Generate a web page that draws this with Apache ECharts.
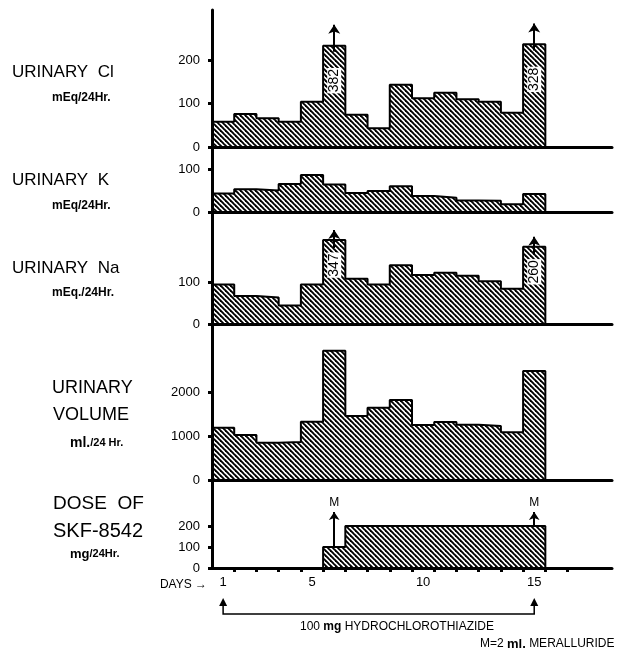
<!DOCTYPE html>
<html>
<head>
<meta charset="utf-8">
<script src="https://cdn.jsdelivr.net/npm/echarts@6/dist/echarts.min.js"></script>
<style>
  html, body { margin: 0; background: #fff; }
  #chart { width: 641px; height: 650px; }
</style>
</head>
<body>
<div id="chart"></div>
<script>
const days = [1, 2, 3, 4, 5, 6, 7, 8, 9, 10, 11, 12, 13, 14, 15];
const clValues = [58, 76, 66, 58, 104, 382, 74, 43, 143, 112, 125, 110, 104, 79, 328];
const kValues = [43, 53, 50, 65, 86, 64, 44, 49, 60, 37, 33, 27, 26, 18, 42];
const naValues = [94, 67, 63, 44, 94, 347, 108, 94, 140, 117, 122, 115, 102, 84, 260];
const volumeValues = [1189, 1023, 848, 864, 1325, 2939, 1455, 1643, 1818, 1250, 1318, 1257, 1227, 1084, 2477];
const doseValues = [0, 0, 0, 0, 0, 100, 200, 200, 200, 200, 200, 200, 200, 200, 200];
// off-scale days and the height the bar is broken at
const clCut = [{ day: 6, at: 233 }, { day: 15, at: 236 }];
const naCut = [{ day: 6, at: 200 }, { day: 15, at: 184 }];
const merallurideDays = [6, 15];
const dayTicks = [1, 2, 3, 4, 5, 6, 7, 8, 9, 10, 11, 12, 13, 14, 15, 16];
const dayLabels = [1, 5, 10, 15];

const font = '"Liberation Sans", Arial, sans-serif';
const chart = echarts.init(document.getElementById('chart'));

function hatch() {
  const s = 5;
  const c = document.createElement('canvas');
  c.width = s; c.height = s;
  const g = c.getContext('2d');
  g.strokeStyle = '#000';
  g.lineWidth = 1.9;
  for (let k = -1; k <= 1; k++) {
    g.beginPath();
    g.moveTo(k * s - 1, -1);
    g.lineTo(k * s + s + 1, s + 1);
    g.stroke();
  }
  return c;
}
const pattern = { image: hatch(), repeat: 'repeat' };

// day d covers [d-1, d] on the x scale
function stepData(values, cuts) {
  const pts = values.map((v, i) => {
    const c = (cuts || []).find(c => c.day === days[i]);
    return [days[i] - 1, c ? c.at : v];
  });
  pts.push([days[days.length - 1], 0]);
  return pts;
}

const panels = [
  { values: clValues, cuts: clCut, top: 10, height: 137, max: 315, ticks: [0, 100, 200], arrow: [14, 48], drop: 35 },
  { values: kValues, top: 147, height: 65, max: 151, ticks: [0, 100] },
  { values: naValues, cuts: naCut, top: 212, height: 112, max: 267, ticks: [0, 100], arrow: [19, 24], drop: 25 },
  { values: volumeValues, top: 324, height: 156, max: 3545, ticks: [0, 1000, 2000] },
  { values: doseValues, top: 480, height: 88, max: 419, ticks: [0, 100, 200] }
];
const last = panels.length - 1;

chart.setOption({
  animation: false,
  backgroundColor: '#fff',
  grid: panels.map(p => ({ left: 212, right: 29, top: p.top, height: p.height })),
  xAxis: panels.map((p, i) => ({
    type: 'value', gridIndex: i, min: 0, max: 18,
    splitLine: { show: false },
    axisLine: { lineStyle: { color: '#000', width: 3 } },
    axisTick: i === last
      ? { show: true, customValues: dayTicks, length: 4, lineStyle: { color: '#000', width: 3 } }
      : { show: false },
    axisLabel: i === last
      ? { show: true, customValues: dayLabels.map(d => d - 0.5), formatter: v => String(Math.round(v + 0.5)),
          color: '#000', fontSize: 13, fontFamily: font, margin: 8 }
      : { show: false }
  })),
  yAxis: panels.map((p, i) => ({
    type: 'value', gridIndex: i, min: 0, max: p.max,
    splitLine: { show: false },
    axisLine: { show: true, lineStyle: { color: '#000', width: 3 } },
    axisTick: { show: true, customValues: p.ticks, length: 4, lineStyle: { color: '#000', width: 3 } },
    axisLabel: { customValues: p.ticks, formatter: v => String(v), color: '#000', fontSize: 13, fontFamily: font, margin: 12 }
  })),
  series: panels.map((p, i) => {
    const s = {
      type: 'line', xAxisIndex: i, yAxisIndex: i, step: 'end', symbol: 'none', silent: true,
      data: stepData(p.values, p.cuts),
      lineStyle: { color: '#000', width: 2 },
      areaStyle: { color: pattern, opacity: 1 }
    };
    if (p.cuts) {
      s.markLine = {
        silent: true, symbol: ['none', 'arrow'], symbolSize: 9,
        lineStyle: { color: '#000', width: 2, type: 'solid' },
        label: { show: false },
        data: p.cuts.map(c => [
          { coord: [c.day - 0.5, c.at - p.arrow[0]] },
          { coord: [c.day - 0.5, c.at + p.arrow[1]] }
        ])
      };
      s.markPoint = {
        silent: true,
        data: p.cuts.map(c => ({
          coord: [c.day - 0.5, c.at],
          symbol: 'rect', symbolSize: 1, symbolOffset: [0, p.drop],
          itemStyle: { color: 'rgba(0,0,0,0)' },
          label: {
            show: true, position: 'inside', rotate: 90, formatter: String(p.values[c.day - 1]),
            color: '#000', fontSize: 14, fontFamily: font, backgroundColor: '#fff', padding: [0, 1]
          }
        }))
      };
    }
    if (i === last) {
      s.markLine = {
        silent: true, symbol: ['none', 'arrow'], symbolSize: 8,
        lineStyle: { color: '#000', width: 2, type: 'solid' },
        label: { show: true, position: 'end', formatter: 'M', color: '#000', fontSize: 12, fontFamily: font, distance: 3 },
        data: merallurideDays.map(d => [
          { coord: [d - 0.5, doseValues[d - 1]] },
          { coord: [d - 0.5, 267] }
        ])
      };
    }
    return s;
  })
});

// bracket for hydrochlorothiazide, day 1 to day 15
const a = chart.convertToPixel({ gridIndex: last }, [dayLabels[0] - 0.5, 0]);
const b = chart.convertToPixel({ gridIndex: last }, [dayLabels[dayLabels.length - 1] - 0.5, 0]);
const yLine = 614, yTip = 598;

function txt(x, y, text, size, weight, align) {
  return {
    type: 'text', x: x, y: y,
    style: { text: text, font: (weight || '') + ' ' + size + 'px ' + font, fill: '#000', verticalAlign: 'middle', align: align || 'left' }
  };
}
function richTxt(x, y, text, size, boldSize) {
  return {
    type: 'text', x: x, y: y,
    style: { text: text, font: size, fill: '#000', verticalAlign: 'middle',
             rich: { b: { fontSize: boldSize, fontWeight: 'bold', fontFamily: font } } }
  };
}
function head(x) {
  return { type: 'polygon', shape: { points: [[x, yTip], [x - 4, yTip + 8], [x + 4, yTip + 8]] }, style: { fill: '#000' } };
}

chart.setOption({
  graphic: [
    txt(12, 72, 'URINARY  Cl', 17),
    txt(52, 98, 'mEq/24Hr.', 12, 'bold'),
    txt(12, 180, 'URINARY  K', 17),
    txt(52, 206, 'mEq/24Hr.', 12, 'bold'),
    txt(12, 268, 'URINARY  Na', 17),
    txt(52, 293, 'mEq./24Hr.', 12, 'bold'),
    txt(52, 388, 'URINARY', 18),
    txt(53, 415, 'VOLUME', 18),
    richTxt(70, 443, '{b|ml.}/24 Hr.', 'bold 11px ' + font, 14),
    txt(53, 504, 'DOSE  OF', 19),
    txt(53, 531, 'SKF-8542', 20),
    richTxt(70, 554, '{b|mg}/24Hr.', 'bold 11px ' + font, 13),
    txt(207, 585, 'DAYS →', 12, '', 'right'),
    { type: 'polyline', shape: { points: [[a[0], yTip + 6], [a[0], yLine], [b[0], yLine], [b[0], yTip + 6]] }, style: { stroke: '#000', lineWidth: 1.5, fill: null } },
    head(a[0]),
    head(b[0]),
    richTxt(300, 627, '100 {b|mg} HYDROCHLOROTHIAZIDE', '12px ' + font, 12),
    richTxt(480, 644, 'M=2 {b|ml.} MERALLURIDE', '12px ' + font, 13)
  ]
});
</script>
</body>
</html>
